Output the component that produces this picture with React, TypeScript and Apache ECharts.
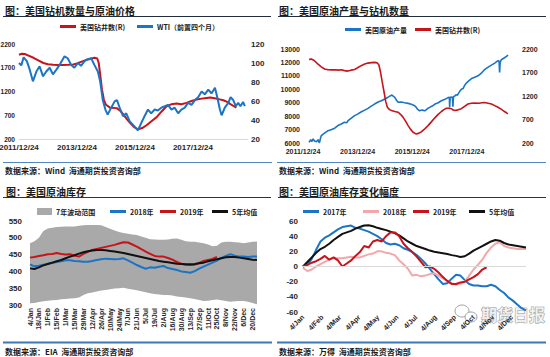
import React, { useEffect, useRef } from "react";
import * as echarts from "echarts";

// ---------- Panel 1: US rig count vs WTI (x = years since 2011/12/24) ----------
const p1Rigs: [number, number][] = [
  [0, 1975], [0.1, 1995], [0.2, 1990], [0.35, 1950], [0.5, 1910], [0.65, 1860], [0.84, 1800], [1.0, 1775],
  [1.18, 1765], [1.35, 1760], [1.5, 1760], [1.7, 1765], [1.87, 1770], [2.0, 1790], [2.16, 1830], [2.3, 1860],
  [2.45, 1885], [2.6, 1910], [2.7, 1895], [2.75, 1800], [2.8, 1560], [2.86, 1250], [2.93, 1020], [3.0, 920],
  [3.14, 860], [3.37, 850], [3.5, 790], [3.6, 720], [3.72, 620], [3.83, 540], [3.97, 450], [4.11, 405],
  [4.25, 430], [4.4, 490], [4.58, 580], [4.75, 660], [4.92, 780], [5.09, 890], [5.25, 930], [5.44, 945],
  [5.6, 930], [5.78, 960], [5.95, 1000], [6.13, 1030], [6.3, 1050], [6.47, 1065], [6.6, 1075], [6.7, 1065],
  [6.88, 1040], [7.05, 1015], [7.2, 975], [7.28, 940], [7.4, 895], [7.5, 860],
];
const p1Wti: [number, number][] = [
  [0, 100], [0.08, 97.5], [0.16, 106], [0.27, 102], [0.37, 93], [0.48, 80.7], [0.6, 91], [0.71, 96.5],
  [0.83, 86], [0.94, 91], [1.06, 95], [1.17, 88], [1.29, 93], [1.4, 98], [1.57, 107], [1.68, 105],
  [1.8, 98], [1.91, 95], [2.03, 100], [2.14, 97], [2.26, 102], [2.37, 104], [2.49, 105], [2.6, 98],
  [2.72, 91], [2.8, 80.7], [2.89, 61], [2.98, 51], [3.06, 45.6], [3.18, 53], [3.3, 59.6], [3.38, 61],
  [3.47, 53], [3.59, 44], [3.7, 47], [3.82, 38.6], [3.95, 34.4], [4.1, 29], [4.22, 37], [4.33, 44],
  [4.45, 51], [4.56, 47], [4.68, 51], [4.79, 50], [4.91, 53], [5.03, 54.5], [5.14, 56], [5.26, 51],
  [5.37, 53], [5.49, 47], [5.6, 51], [5.72, 53], [5.83, 58], [5.95, 56], [6.07, 61], [6.18, 64],
  [6.3, 70], [6.41, 67], [6.53, 72], [6.64, 68], [6.76, 74], [6.84, 64], [6.93, 51], [6.99, 45],
  [7.1, 53], [7.22, 58], [7.3, 64], [7.39, 61], [7.48, 54.5], [7.56, 58], [7.64, 54.5], [7.73, 59], [7.79, 54.5],
];

// ---------- Panel 2: US crude production vs rig count ----------
const p2Production: [number, number][] = [
  [0.22, 6050], [0.28, 6250], [0.32, 6100], [0.37, 6300], [0.42, 6150], [0.49, 6100], [0.55, 6250], [0.6, 6000],
  [0.64, 6350], [0.67, 6550], [0.8, 6750], [0.92, 6920], [1.05, 7000], [1.16, 7100], [1.28, 7300], [1.4, 7420],
  [1.52, 7550], [1.6, 7500], [1.65, 7660], [1.77, 7850], [1.89, 8040], [2.0, 8150], [2.14, 8330], [2.26, 8450],
  [2.38, 8580], [2.5, 8750], [2.62, 8900], [2.75, 9050], [2.87, 9150], [3.05, 9330], [3.15, 9450], [3.24, 9570],
  [3.3, 9500], [3.36, 9400], [3.42, 9200], [3.48, 9030], [3.6, 9050], [3.72, 9000], [3.85, 8950], [3.97, 8880],
  [4.07, 8800], [4.15, 8650], [4.2, 8500], [4.27, 8400], [4.36, 8450], [4.46, 8400], [4.55, 8550], [4.64, 8650],
  [4.73, 8750], [4.82, 8880], [4.95, 9000], [5.07, 9150], [5.2, 9250], [5.31, 9380], [5.36, 9400], [5.37, 8650],
  [5.39, 9400], [5.47, 9420], [5.49, 8700], [5.51, 9450], [5.56, 9500], [5.6, 9600], [5.65, 9550], [5.74, 9850],
  [5.8, 10000], [5.86, 10050], [5.92, 10300], [6.0, 10500], [6.08, 10650], [6.17, 10800], [6.29, 10900],
  [6.41, 11000], [6.53, 11200], [6.65, 11470], [6.78, 11650], [6.9, 11800], [7.02, 11950], [7.14, 12130],
  [7.18, 12100], [7.2, 11250], [7.22, 12000], [7.26, 12200], [7.38, 12350], [7.45, 12450], [7.51, 12550],
];
const p2Rigs: [number, number][] = [
  [0.22, 1975], [0.3, 1985], [0.4, 1960], [0.55, 1880], [0.67, 1820], [0.79, 1775], [0.92, 1760], [1.04, 1755],
  [1.2, 1760], [1.3, 1750], [1.4, 1760], [1.52, 1740], [1.64, 1730], [1.76, 1750], [1.89, 1765], [2.0, 1800],
  [2.13, 1845], [2.26, 1880], [2.38, 1900], [2.5, 1910], [2.62, 1915], [2.72, 1905], [2.78, 1860], [2.84, 1705],
  [2.9, 1500], [2.97, 1280], [3.03, 1080], [3.09, 960], [3.17, 910], [3.24, 890], [3.36, 870], [3.48, 855],
  [3.57, 810], [3.66, 750], [3.75, 670], [3.85, 570], [3.94, 490], [4.03, 430], [4.15, 390], [4.25, 410],
  [4.34, 440], [4.46, 500], [4.58, 570], [4.7, 650], [4.82, 730], [4.95, 810], [5.07, 870], [5.16, 910],
  [5.25, 940], [5.34, 940], [5.43, 930], [5.5, 900], [5.56, 890], [5.68, 905], [5.8, 930], [5.92, 980],
  [6.04, 1030], [6.16, 1045], [6.29, 1050], [6.45, 1045], [6.55, 1055], [6.65, 1060], [6.78, 1045], [6.9, 1030],
  [7.02, 995], [7.14, 960], [7.24, 925], [7.33, 890], [7.42, 855], [7.5, 820],
];

// ---------- Panel 3: US crude inventories (weekly) ----------
const weekLabels = [
  "4/Jan", "11/Jan", "18/Jan", "25/Jan", "1/Feb", "8/Feb", "15/Feb", "22/Feb", "1/Mar", "8/Mar", "15/Mar", "22/Mar", "29/Mar",
  "5/Apr", "12/Apr", "19/Apr", "26/Apr", "3/May", "10/May", "17/May", "24/May", "31/May", "7/Jun", "14/Jun", "21/Jun", "28/Jun",
  "5/Jul", "12/Jul", "19/Jul", "26/Jul", "2/Aug", "9/Aug", "16/Aug", "23/Aug", "30/Aug", "6/Sep", "13/Sep", "20/Sep", "27/Sep",
  "4/Oct", "11/Oct", "18/Oct", "25/Oct", "1/Nov", "8/Nov", "15/Nov", "22/Nov", "29/Nov", "6/Dec", "13/Dec", "20/Dec", "27/Dec",
];
const range7Max = [
  484, 490, 500, 520, 528, 530, 532, 533, 534, 534, 534, 536, 537, 538, 538, 538, 537, 532, 527, 522, 517, 514, 512, 510, 508, 504,
  500, 496, 495, 494, 494, 495, 497, 498, 494, 490, 488, 488, 486, 484, 480, 475, 476, 486, 488, 488, 487, 486, 484, 486, 488, 489,
];
const range7Min = [
  305, 306, 309, 311, 313, 314, 315, 317, 318, 319, 320, 322, 330, 335, 337, 340, 343, 345, 347, 349, 350, 351, 348, 346, 344, 341,
  338, 335, 333, 331, 330, 330, 328, 325, 324, 322, 320, 318, 315, 312, 313, 315, 316, 314, 312, 310, 311, 312, 312, 310, 306, 302,
];
const stock2018 = [
  421, 415, 417, 420, 423, 425, 428, 430, 433, 433, 431, 430, 429, 429, 431, 434, 436, 438, 437, 436, 437, 439, 433, 426, 419, 413,
  408, 412, 411, 414, 416, 410, 407, 404, 400, 398, 396, 401, 408, 414, 420, 426, 432, 440, 446, 451, 447, 444, 444, 443, 444, 444,
];
const stock2019 = [
  441, 443, 446, 448, 451, 452, 455, 452, 450, 451, 447, 444, 452, 458, 464, 467, 470, 473, 476, 479, 483, 487, 486, 480, 474, 466,
  459, 452, 446, 444, 444, 440, 435, 428, 423, 420, 419, 420, 425, 431, 434, 437, 443,
];
const stock5yr = [
  409, 407, 412, 418, 422, 426, 430, 434, 439, 444, 448, 453, 457, 460, 462, 464, 464, 463, 461, 459, 457, 455, 452, 449, 446, 443,
  440, 437, 434, 431, 429, 427, 425, 423, 422, 421, 421, 422, 424, 426, 430, 433, 436, 439, 442, 443, 443, 441, 439, 437, 435, 434,
];

// ---------- Panel 4: cumulative inventory change (weekly, x in days from 4/Jan) ----------
const monthTickDays = [0, 31, 59, 90, 120, 151, 181, 212, 243, 273, 304, 334];
const monthTickLabels = ["4/Jan", "4/Feb", "4/Mar", "4/Apr", "4/May", "4/Jun", "4/Jul", "4/Aug", "4/Sep", "4/Oct", "4/Nov", "4/Dec"];
const chg2017 = [
  0, 2, 10, 22, 33, 38, 41, 45, 49, 52, 53, 54, 51, 50, 48, 46, 43, 40, 36, 31, 29, 30, 28, 24, 22, 19,
  15, 10, 4, -3, -10, -17, -23, -22, -16, -11, -12, -18, -23, -25, -25, -26, -26, -24, -26, -31, -35, -41, -45, -50, -55, -58,
];
const chg2018 = [
  -2, -6, -4, 0, 3, 6, 9, 11, 11, 11, 12, 13, 12, 12, 14, 16, 17, 20, 20, 18, 17, 15, 8, 3, -3, -12,
  -11, -13, -12, -10, -9, -12, -16, -19, -22, -24, -23, -20, -12, -4, 2, 9, 18, 25, 30, 32, 27, 25, 24, 23, 23, 23,
];
const chg2019 = [
  0, 2, 5, 7, 10, 14, 9, 12, 8, 0, 4, 8, 14, 19, 27, 25, 33, 35, 33, 40, 45, 45, 40, 30, 24, 19,
  13, 6, -1, 0, -3, -8, -14, -19, -23, -23, -21, -20, -17, -14, -10, -4, -1,
];
const chg5yr = [
  0, 6, 12, 18, 23, 26, 30, 35, 39, 43, 45, 47, 50, 52, 54, 54.5, 53, 51, 49.5, 48, 46, 44, 41, 37, 33, 30,
  27, 25, 23, 21, 19.5, 18.5, 17.5, 16.5, 15, 14, 12.5, 13.5, 17, 21, 24, 27, 30, 33, 35, 34, 31, 29, 28, 27, 26, 25,
];

const BLUE = "#1b74c5";
const RED = "#c8131b";
const PINK = "#f3a7a9";
const BLACK = "#111111";
const GRAY = "#a9a9a9";
const FONT = '"Liberation Sans", "Noto Sans CJK SC", sans-serif';
const CJK = '"Noto Sans CJK SC", "Liberation Sans", sans-serif';
const LABEL = "#262626";

const weekly = (arr: number[]) => arr.map((v, i) => [7 * i, v]);
const plain = (v: number) => String(v);

const lineSeries = (name: string, data: any[], color: string, xi: number, yi: number, width = 2) => ({
  type: "line",
  name,
  data,
  xAxisIndex: xi,
  yAxisIndex: yi,
  symbol: "none",
  smooth: false,
  lineStyle: { color, width },
  itemStyle: { color },
  z: 3,
});

const legendItem = (name: string, left: number, cy: number, color: string, h = 3, w = 16) => ({
  data: [{ name, icon: "rect", itemStyle: { color, borderWidth: 0 } }],
  left,
  top: cy - 5,
  itemWidth: w,
  itemHeight: h,
  itemGap: 0,
  padding: 0,
  selectedMode: false,
  formatter: (n: string) => n.split("#")[0],
  textStyle: { fontSize: 7, fontWeight: "bold", color: "#222", fontFamily: CJK, padding: [0, 0, 0, -1] },
});

const axisLabelStyle = (size: number, extra: any = {}) => ({
  fontSize: size,
  fontWeight: "bold",
  color: LABEL,
  fontFamily: FONT,
  ...extra,
});

const noLines = {
  axisLine: { show: false },
  axisTick: { show: false },
  splitLine: { show: false },
};

const txt = (text: string, x: number, y: number, size: number, color = "#1a1a1a") => ({
  type: "text",
  x,
  y,
  silent: true,
  style: {
    text,
    fill: color,
    font: `bold ${size}px ${CJK}`,
    verticalAlign: "middle",
    textVerticalAlign: "middle",
  },
});

const hline = (x1: number, x2: number, y: number, color: string, w: number) => ({
  type: "line",
  silent: true,
  shape: { x1, y1: y, x2, y2: y },
  style: { stroke: color, lineWidth: w },
});

export default function App() {
  const ref = useRef<HTMLDivElement>(null);
  useEffect(() => {
    const chart = echarts.init(ref.current!, null, { renderer: "svg" });
    const option: any = {
      animation: false,
      backgroundColor: "#ffffff",
      grid: [
        { left: 19, top: 44, width: 229, height: 95, outerBoundsMode: "none", containLabel: false },
        { left: 303, top: 49, width: 213, height: 94, outerBoundsMode: "none", containLabel: false },
        { left: 30, top: 221, width: 227, height: 84, outerBoundsMode: "none", containLabel: false },
        { left: 303, top: 221, width: 223, height: 91, outerBoundsMode: "none", containLabel: false },
      ],
      xAxis: [
        {
          type: "value", gridIndex: 0, min: 0, max: 7.9, interval: 2,
          axisLine: { show: true, lineStyle: { color: "#d9d9d9", width: 1 } },
          axisTick: { show: false }, splitLine: { show: false },
          axisLabel: axisLabelStyle(8, { margin: 4, showMaxLabel: false, formatter: (v: number) => `${2011 + v}/12/24` }),
        },
        {
          type: "value", gridIndex: 1, min: 0, max: 7.8, interval: 2, ...noLines,
          axisLabel: axisLabelStyle(7, { margin: 5, showMaxLabel: false, formatter: (v: number) => `${2011 + v}/12/24` }),
        },
        {
          type: "category", gridIndex: 2, data: weekLabels, boundaryGap: false, ...noLines,
          axisLabel: axisLabelStyle(7, { rotate: 90, interval: 1, margin: 3 }),
        },
        {
          type: "value", gridIndex: 3, min: 0, max: 357, ...noLines,
          axisLabel: axisLabelStyle(7, {
            rotate: 45, margin: 4, customValues: monthTickDays,
            formatter: (v: number) => monthTickLabels[monthTickDays.indexOf(v)] ?? "",
          }),
        },
      ],
      yAxis: [
        { type: "value", gridIndex: 0, min: 200, max: 2200, interval: 500, ...noLines, axisLabel: axisLabelStyle(6.5, { margin: 4, formatter: plain }) },
        { type: "value", gridIndex: 0, position: "right", min: 20, max: 120, interval: 20, ...noLines, axisLabel: axisLabelStyle(8, { margin: 3, formatter: plain }) },
        { type: "value", gridIndex: 1, min: 6000, max: 13000, interval: 1000, ...noLines, axisLabel: axisLabelStyle(7, { margin: 3, formatter: plain }) },
        { type: "value", gridIndex: 1, position: "right", min: 200, max: 2200, interval: 500, ...noLines, axisLabel: axisLabelStyle(7, { margin: 6, formatter: plain }) },
        { type: "value", gridIndex: 2, min: 300, max: 550, interval: 50, ...noLines, axisLabel: axisLabelStyle(8, { margin: 8, formatter: plain }) },
        { type: "value", gridIndex: 3, min: -60, max: 60, interval: 20, ...noLines, axisLabel: axisLabelStyle(8, { margin: 5, formatter: plain }) },
      ],
      legend: [
        legendItem("美国钻井数(R)", 60, 28, RED),
        legendItem("WTI（前置四个月）", 137, 28, BLUE),
        legendItem("美国原油产量", 345, 31, BLUE),
        legendItem("美国钻井数(R)#2", 415, 31, RED),
        legendItem("7年波动范围", 37, 213, GRAY, 7, 15),
        legendItem("2018年", 110, 213, BLUE),
        legendItem("2019年", 160, 213, RED),
        legendItem("5年均值", 212, 213, BLACK),
        legendItem("2017年#4", 303, 213, BLUE),
        legendItem("2018年#4", 363, 213, PINK),
        legendItem("2019年#4", 413, 213, RED),
        legendItem("5年均值#4", 469, 213, BLACK),
      ],
      series: [
        lineSeries("美国钻井数(R)", p1Rigs, RED, 0, 0, 2),
        lineSeries("WTI（前置四个月）", p1Wti, BLUE, 0, 1, 2),
        lineSeries("美国原油产量", p2Production, BLUE, 1, 2, 1.6),
        lineSeries("美国钻井数(R)#2", p2Rigs, RED, 1, 3, 1.6),
        {
          type: "line", name: "range-base", data: range7Min, xAxisIndex: 2, yAxisIndex: 4,
          stack: "range", symbol: "none", lineStyle: { width: 0, opacity: 0 }, z: 1,
        },
        {
          type: "line", name: "7年波动范围", data: range7Max.map((v, i) => v - range7Min[i]),
          xAxisIndex: 2, yAxisIndex: 4, stack: "range", symbol: "none",
          lineStyle: { width: 0, opacity: 0 }, itemStyle: { color: GRAY },
          areaStyle: { color: GRAY, opacity: 1 }, z: 1,
        },
        lineSeries("2018年", stock2018, BLUE, 2, 4, 2),
        lineSeries("2019年", stock2019, RED, 2, 4, 2),
        lineSeries("5年均值", stock5yr, BLACK, 2, 4, 2),
        {
          ...lineSeries("2017年#4", weekly(chg2017), BLUE, 3, 5, 2),
          markLine: {
            silent: true, symbol: "none", label: { show: false },
            lineStyle: { color: "#d9d9d9", width: 1, type: "solid" },
            data: [{ yAxis: 0 }],
          },
        },
        lineSeries("2018年#4", weekly(chg2018), PINK, 3, 5, 2),
        lineSeries("5年均值#4", weekly(chg5yr), BLACK, 3, 5, 2),
        lineSeries("2019年#4", weekly(chg2019), RED, 3, 5, 2),
      ],
      graphic: [
        txt("图：美国钻机数量与原油价格", 5, 10, 10),
        txt("图：美国原油产量与钻机数量", 279, 10, 10),
        txt("图：美国原油库存", 6, 191, 10),
        txt("图：美国原油库存变化幅度", 279, 191, 10),
        hline(3, 271, 16.5, "#1f2d3d", 1),
        hline(278, 546, 16.5, "#1f2d3d", 1),
        hline(3, 271, 197.5, "#1f3550", 1),
        hline(278, 546, 197.5, "#1f3550", 1),
        hline(3, 272, 162.5, "#4f86c0", 1.2),
        hline(277, 546, 162.5, "#4f86c0", 1.2),
        hline(3, 272, 342.5, "#3a78b8", 2),
        hline(277, 546, 342.5, "#3a78b8", 2),
        txt("数据来源：Wind  海通期货投资咨询部", 5, 170, 8),
        txt("数据来源：Wind  海通期货投资咨询部", 279, 170, 8),
        txt("数据来源：EIA  海通期货投资咨询部", 5, 351, 8),
        txt("数据来源：万得  海通期货投资咨询部", 279, 351, 8),
        { type: "ellipse", silent: true, shape: { cx: 462, cy: 311, rx: 7, ry: 6 }, style: { fill: "none", stroke: "#a0a0a0", lineWidth: 1 } },
        { type: "ellipse", silent: true, shape: { cx: 471, cy: 317, rx: 6, ry: 5 }, style: { fill: "#ffffff", stroke: "#a0a0a0", lineWidth: 1 } },
        {
          type: "text", x: 481, y: 314, silent: true,
          style: {
            text: "期货日报", fill: "rgba(245,245,245,0.9)", stroke: "#8f8f8f", lineWidth: 0.9,
            font: `bold 16px ${CJK}`, verticalAlign: "middle", textVerticalAlign: "middle",
          },
        },
      ],
    };
    chart.setOption(option);
    return () => chart.dispose();
  }, []);
  return <div ref={ref} style={{ position: "absolute", left: 0, top: 0, width: 550, height: 357 }} />;
}
